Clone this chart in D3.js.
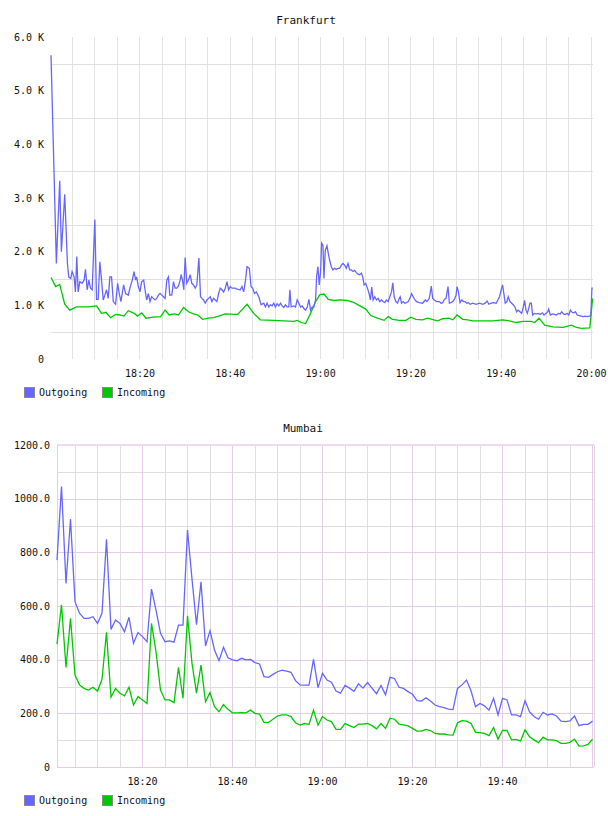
<!DOCTYPE html>
<html>
<head>
<meta charset="utf-8">
<script src="https://cdn.jsdelivr.net/npm/d3@7/dist/d3.min.js"></script>
<style>
body { margin: 0; background: #fff; }
svg { display: block; }
text { font-family: "DejaVu Sans Mono", monospace; fill: #111; }
</style>
</head>
<body>
<svg id="svg1" width="608" height="816"></svg>
<script>
// ---- data (time = minutes after 18:00) ----
var fraOutgoing = [[0.40,5660],[1.59,1780],[2.33,3320],[2.70,2000],[3.44,3070],[4.04,1780],[4.33,1530],[4.78,1500],[5.07,1630],[5.52,1530],[5.81,1250],[6.11,1910],[6.41,1250],[6.78,1440],[7.30,1410],[7.74,1470],[8.04,1670],[8.41,1290],[8.78,1470],[9.15,1320],[9.52,1290],[10.11,2600],[10.48,1110],[10.85,1110],[11.22,1810],[11.59,1470],[11.96,1100],[12.33,1190],[12.70,1290],[13.07,1130],[13.44,1530],[13.81,1530],[14.19,1070],[14.70,1020],[15.15,1410],[15.52,1220],[15.89,1070],[16.48,1380],[16.93,1220],[17.52,1190],[17.96,1350],[18.41,1470],[18.78,1630],[19.15,1470],[19.37,1530],[19.74,1350],[20.11,1250],[20.48,1440],[20.93,1470],[21.22,1290],[21.59,1100],[21.96,1220],[22.33,1070],[22.70,1160],[23.07,1130],[23.44,1100],[23.81,1130],[24.19,1190],[24.56,1220],[24.93,1190],[25.30,1160],[25.67,1130],[26.04,1470],[26.41,1530],[26.70,1190],[27.15,1190],[27.52,1440],[27.89,1320],[28.26,1320],[28.63,1360],[29.00,1470],[29.22,1570],[29.52,1470],[29.81,1290],[30.11,1890],[30.48,1410],[30.85,1470],[31.22,1570],[31.59,1410],[31.96,1380],[32.33,1320],[32.70,1380],[33.15,1880],[33.52,1160],[33.81,1130],[34.19,1100],[34.56,1040],[34.93,1100],[35.30,1130],[35.67,1160],[36.04,1070],[36.41,1130],[36.78,1100],[37.15,1070],[37.52,1220],[37.89,1320],[38.26,1290],[38.63,1250],[39.00,1320],[39.37,1440],[39.74,1290],[40.11,1350],[40.48,1320],[41.22,1320],[41.59,1300],[42.33,1290],[42.70,1350],[43.07,1250],[43.44,1440],[43.81,1720],[44.33,1690],[44.70,1350],[45.07,1320],[45.44,1220],[45.89,1250],[46.41,1160],[46.93,1010],[47.52,1040],[47.89,970],[48.26,1040],[48.63,970],[49.00,1010],[49.37,990],[49.74,1040],[50.11,970],[50.48,1030],[50.85,990],[51.22,1040],[51.59,990],[51.96,960],[52.33,1010],[52.70,970],[53.07,970],[53.30,1290],[53.59,970],[54.19,990],[54.56,970],[54.93,1100],[55.30,1040],[55.67,970],[56.04,990],[56.41,940],[56.78,910],[57.15,970],[57.52,1110],[57.89,910],[58.26,970],[58.63,970],[59.00,1100],[59.22,1530],[59.52,1720],[59.81,1380],[60.11,1630],[60.33,2160],[60.63,2120],[60.85,1500],[61.15,2030],[61.52,2110],[61.81,1970],[62.11,1840],[62.48,1720],[62.85,1660],[63.22,1690],[63.59,1670],[63.96,1690],[64.33,1690],[64.70,1750],[65.07,1780],[65.44,1750],[65.81,1690],[66.19,1780],[66.56,1660],[66.93,1660],[67.30,1630],[67.67,1650],[68.04,1610],[68.41,1580],[68.78,1570],[69.15,1600],[69.44,1530],[69.74,1380],[70.11,1410],[70.48,1320],[70.85,1220],[71.15,1100],[71.44,1340],[71.74,1100],[72.11,1160],[72.48,1100],[72.85,1130],[73.22,1070],[73.59,1100],[73.96,1070],[74.33,1050],[74.70,1100],[75.07,1070],[75.44,1160],[75.81,1250],[76.11,1420],[76.41,1160],[76.78,1070],[77.15,1040],[77.52,1130],[77.74,1160],[78.04,1040],[78.41,1070],[78.78,1040],[79.15,1050],[79.52,1070],[79.89,1130],[80.26,1220],[80.63,1160],[81.00,1100],[81.37,1070],[81.96,1050],[82.70,1040],[83.30,1100],[83.67,1070],[84.19,1130],[84.63,1360],[84.93,1130],[85.30,1100],[85.81,1070],[86.41,1070],[86.78,1040],[87.15,1050],[87.52,1110],[87.89,1130],[88.33,1350],[88.63,1040],[89.00,1050],[89.37,1070],[89.74,1110],[90.11,1190],[90.33,1350],[90.63,1250],[91.00,1050],[91.37,1100],[91.74,1070],[92.11,1070],[92.48,1040],[92.85,1050],[93.22,1020],[93.81,1040],[94.56,1020],[95.30,1040],[96.04,1020],[96.56,1040],[97.00,1080],[97.37,1020],[97.89,1040],[98.41,1050],[99.00,1040],[99.37,1100],[99.74,1160],[100.11,1290],[100.41,1380],[100.70,1220],[101.00,1040],[101.37,1070],[101.67,1160],[102.04,1070],[102.41,1040],[102.78,1010],[103.15,970],[103.52,880],[103.89,910],[104.26,880],[104.63,850],[104.93,940],[105.30,1090],[105.59,910],[105.89,850],[106.19,940],[106.48,1040],[106.78,1040],[107.07,820],[107.44,850],[107.89,840],[108.33,850],[108.78,830],[109.22,860],[109.59,820],[110.04,850],[110.41,880],[110.63,930],[111.00,820],[111.44,840],[111.89,830],[112.33,820],[112.78,850],[113.15,840],[113.52,880],[113.89,840],[114.26,830],[114.70,850],[115.07,820],[115.44,910],[115.81,870],[116.19,860],[116.56,880],[116.93,820],[117.37,810],[117.81,800],[118.26,790],[118.70,800],[119.15,790],[119.59,800],[119.96,810],[120.20,1320],[120.40,1320]];

var fraIncoming = [[0.40,1520],[1.44,1350],[2.33,1390],[3.44,1020],[4.56,910],[6.04,970],[8.63,970],[10.48,990],[11.59,850],[12.56,870],[13.59,770],[14.70,830],[15.67,820],[16.56,800],[17.52,900],[18.85,850],[19.59,800],[20.48,860],[21.44,760],[23.07,780],[24.70,790],[25.67,910],[26.56,820],[27.67,840],[28.63,820],[29.74,960],[30.85,880],[31.96,840],[32.93,820],[33.96,740],[35.30,760],[36.41,770],[37.52,800],[39.00,840],[41.22,830],[41.74,830],[43.81,1020],[45.30,850],[46.78,730],[49.74,720],[51.96,710],[54.19,700],[54.93,720],[55.81,680],[56.78,660],[57.89,850],[59.00,1070],[59.96,1200],[60.85,1210],[61.81,1110],[63.07,1090],[64.56,1100],[66.04,1090],[67.52,1050],[68.63,1000],[70.11,930],[71.22,810],[72.70,760],[74.19,720],[75.07,790],[76.04,740],[77.52,720],[79.00,720],[80.11,780],[81.22,740],[82.70,730],[83.81,760],[84.78,740],[86.04,710],[87.15,750],[88.48,760],[89.37,730],[90.33,820],[91.59,740],[92.70,730],[93.81,710],[96.04,710],[98.26,710],[100.48,730],[101.96,710],[103.44,680],[104.93,700],[106.78,700],[107.52,680],[108.48,760],[109.74,630],[111.59,600],[113.81,590],[115.67,630],[116.78,590],[117.89,570],[119.74,580],[120.35,1130]];

// Mumbai: one sample a minute, first one at 18:01:07
var mumStart = 1.11;
var mumOutgoing = [771,1045,684,924,616,573,554,554,560,535,
  573,849,513,548,535,504,558,461,501,486,
  467,663,585,498,467,470,465,529,529,883,
  700,530,690,451,508,436,396,446,407,399,
  396,405,399,401,389,384,337,334,345,355,
  361,357,353,322,306,305,305,401,296,349,
  324,316,283,275,304,294,282,310,294,315,
  294,273,304,269,334,330,297,293,281,271,
  247,246,258,246,231,225,221,216,214,293,
  306,324,284,225,237,228,212,256,194,256,
  250,194,194,188,247,206,188,178,204,194,
  198,190,171,169,172,190,154,159,159,171];
var mumIncoming = [458,604,371,554,343,306,293,287,297,283,
  327,502,260,293,275,265,297,231,263,250,
  237,535,430,287,250,250,240,371,256,563,
  386,275,380,243,278,225,206,233,215,202,
  202,203,202,212,200,197,166,166,178,190,
  194,194,188,165,156,162,159,212,156,188,
  175,169,140,140,162,154,147,160,160,162,
  154,142,162,144,182,178,160,157,153,144,
  134,134,140,136,125,123,123,120,119,165,
  173,171,162,129,128,125,117,147,104,136,
  136,101,103,97,138,113,101,91,111,101,
  101,98,88,88,92,104,78,79,84,104];

var fraYTicks = [0, 1000, 2000, 3000, 4000, 5000, 6000];
var fraYGrid = [500, 1500, 2500, 3500, 4500, 5500];
var mumYTicks = [0, 200, 400, 600, 800, 1000, 1200];
var mumYGrid = [100, 200, 300, 400, 500, 600, 700, 800, 900, 1000, 1100];
var fraTimeTicks = ["18:20", "18:40", "19:00", "19:20", "19:40", "20:00"];
var mumTimeTicks = ["18:20", "18:40", "19:00", "19:20", "19:40"];
var seriesNames = ["Outgoing", "Incoming"];
var seriesColors = ["#6666ff", "#00c800"];

var svg = d3.select('#svg1');

var base = new Date(2020, 0, 1, 18, 0, 0);
function minToDate(m) { return new Date(base.getTime() + m * 60000); }
function hhmm(s) {
    var p = s.split(':');
    return minToDate((+p[0] - 18) * 60 + (+p[1]));
}
var fmtTime = d3.timeFormat('%H:%M');

function drawLegend(y) {
    var g = svg.append('g').attr('transform', 'translate(0,' + y + ')');
    var xs = [24, 102];
    seriesNames.forEach(function(name, i) {
        g.append('rect')
            .attr('x', xs[i] + 0.5).attr('y', 0.5)
            .attr('width', 10).attr('height', 10)
            .attr('fill', seriesColors[i])
            .attr('stroke', '#8a8a8a');
        g.append('text')
            .attr('x', xs[i] + 15).attr('y', 9)
            .style('font-size', '10px')
            .text(name);
    });
}

//---------------- Frankfurt ----------------
var fx = d3.scaleTime()
    .domain([minToDate(0.40), minToDate(120.44)])
    .range([51, 593]);
var fy = d3.scaleLinear().domain([0, 6000]).range([359, 37]);

svg.append('text')
    .attr('x', 306).attr('y', 24)
    .attr('text-anchor', 'middle')
    .style('font-size', '11px')
    .text('Frankfurt');

// vertical grid every 5 minutes
svg.append('g').selectAll('line')
    .data(fx.ticks(d3.timeMinute.every(5)))
    .enter().append('line')
    .attr('x1', function(d) { return Math.round(fx(d)) + 0.5; })
    .attr('x2', function(d) { return Math.round(fx(d)) + 0.5; })
    .attr('y1', 37).attr('y2', 359)
    .attr('stroke', '#e3e3e3');

svg.append('g').selectAll('line')
    .data(fraYGrid)
    .enter().append('line')
    .attr('x1', 51).attr('x2', 593)
    .attr('y1', function(d) { return Math.round(fy(d)) + 0.5; })
    .attr('y2', function(d) { return Math.round(fy(d)) + 0.5; })
    .attr('stroke', '#e0e0e0');

var fyAxis = svg.append('g')
    .attr('transform', 'translate(51,0)')
    .call(d3.axisLeft(fy).tickValues(fraYTicks).tickSize(0).tickPadding(7)
        .tickFormat(function(d) { return d === 0 ? '0' : (d / 1000).toFixed(1) + ' K'; }));
fyAxis.select('.domain').remove();

var fxAxis = svg.append('g')
    .attr('transform', 'translate(0,359)')
    .call(d3.axisBottom(fx).tickValues(fraTimeTicks.map(hhmm)).tickSize(0).tickPadding(11)
        .tickFormat(fmtTime));
fxAxis.select('.domain').remove();

var fline = d3.line()
    .x(function(d) { return fx(minToDate(d[0])); })
    .y(function(d) { return fy(d[1]); });

svg.append('path')
    .datum(fraIncoming)
    .attr('d', fline)
    .attr('fill', 'none')
    .attr('stroke', seriesColors[1])
    .attr('stroke-width', 1.3);

svg.append('path')
    .datum(fraOutgoing)
    .attr('d', fline)
    .attr('fill', 'none')
    .attr('stroke', seriesColors[0])
    .attr('stroke-width', 1.3);

drawLegend(387);

//---------------- Mumbai ----------------
var mx = d3.scaleTime()
    .domain([minToDate(1.11), minToDate(120.44)])
    .range([57, 594]);
var my = d3.scaleLinear().domain([0, 1200]).range([767, 445]);

svg.append('text')
    .attr('x', 303).attr('y', 432)
    .attr('text-anchor', 'middle')
    .style('font-size', '11px')
    .text('Mumbai');

var mg = svg.append('g');
mg.selectAll('line.h')
    .data(mumYGrid)
    .enter().append('line')
    .attr('class', 'h')
    .attr('x1', 57).attr('x2', 594)
    .attr('y1', function(d) { return Math.round(my(d)) + 0.5; })
    .attr('y2', function(d) { return Math.round(my(d)) + 0.5; })
    .attr('stroke', function(d) { return d % 200 === 0 ? '#e6cce6' : '#dedede'; });

mg.selectAll('line.v')
    .data(mx.ticks(d3.timeMinute.every(5)))
    .enter().append('line')
    .attr('class', 'v')
    .attr('x1', function(d) { return Math.round(mx(d)) + 0.5; })
    .attr('x2', function(d) { return Math.round(mx(d)) + 0.5; })
    .attr('y1', 445).attr('y2', 767)
    .attr('stroke', function(d) { return d.getMinutes() % 20 === 0 ? '#e6cce6' : '#dedede'; });

// frame
mg.append('line').attr('x1', 57).attr('x2', 594).attr('y1', 445).attr('y2', 445)
    .attr('stroke', '#eedcee').attr('stroke-width', 2);
mg.append('line').attr('x1', 57.5).attr('x2', 57.5).attr('y1', 445).attr('y2', 767)
    .attr('stroke', '#e6cce6');
mg.append('line').attr('x1', 594.5).attr('x2', 594.5).attr('y1', 445).attr('y2', 767)
    .attr('stroke', '#e0d6e0');
mg.append('line').attr('x1', 57).attr('x2', 594).attr('y1', 767.5).attr('y2', 767.5)
    .attr('stroke', '#e6cce6');

var myAxis = svg.append('g')
    .attr('transform', 'translate(57,0)')
    .call(d3.axisLeft(my).tickValues(mumYTicks).tickSize(0).tickPadding(7)
        .tickFormat(function(d) { return d === 0 ? '0' : d.toFixed(1); }));
myAxis.select('.domain').remove();

var mxAxis = svg.append('g')
    .attr('transform', 'translate(0,767)')
    .call(d3.axisBottom(mx).tickValues(mumTimeTicks.map(hhmm)).tickSize(0).tickPadding(11)
        .tickFormat(fmtTime));
mxAxis.select('.domain').remove();

svg.selectAll('.tick text')
    .style('font-family', '"DejaVu Sans Mono", monospace')
    .style('font-size', '10px')
    .attr('fill', '#111');

var mline = d3.line()
    .x(function(d, i) { return mx(minToDate(mumStart + i)); })
    .y(function(d) { return my(d); });

svg.append('path')
    .datum(mumIncoming)
    .attr('d', mline)
    .attr('fill', 'none')
    .attr('stroke', seriesColors[1])
    .attr('stroke-width', 1.3);

svg.append('path')
    .datum(mumOutgoing)
    .attr('d', mline)
    .attr('fill', 'none')
    .attr('stroke', seriesColors[0])
    .attr('stroke-width', 1.3);

drawLegend(795);
</script>
</body>
</html>
